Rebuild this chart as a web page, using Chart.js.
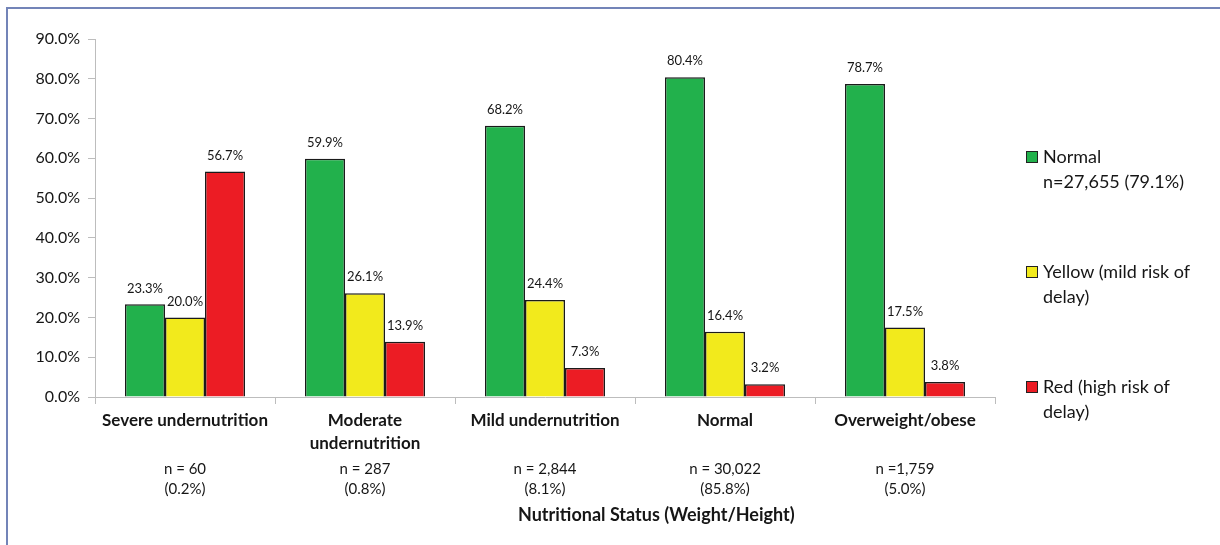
<!DOCTYPE html>
<html>
<head>
<meta charset="utf-8">
<script src="https://cdn.jsdelivr.net/npm/chart.js@4/dist/chart.umd.min.js"></script>
<style>
  html, body { margin: 0; padding: 0; background: #fff; }
  #wrap { position: relative; width: 1220px; height: 545px; overflow: hidden; font-family: Lato, "Open Sans", sans-serif; }
  #frame { position: absolute; left: 6px; top: 7px; width: 1300px; height: 600px; border-top: 2px solid #7384b8; border-left: 2px solid #7384b8; }
  #chart { position: absolute; left: 0; top: 0; }
  .lg { position: absolute; left: 1026px; font-size: 18px; line-height: 25px; color: #161616; }
  .lg .sw { position: absolute; left: 0; top: 7px; width: 10px; height: 10px; border: 1px solid #222; }
  .lg .tx { margin-left: 17px; white-space: nowrap; }
  #xtitle { position: absolute; left: 518px; top: 502px; font-size: 18px; font-weight: bold; line-height: 24px; color: #161616; white-space: nowrap; }
</style>
</head>
<body>
<div id="wrap">
  <div id="frame"></div>
  <canvas id="chart" width="1220" height="545"></canvas>
  <div id="legend"></div>
  <div id="xtitle"></div>
</div>
<script>
// Nutritional status groups and their sample sizes
const categories = [
  "Severe undernutrition",
  ["Moderate", "undernutrition"],
  "Mild undernutrition",
  "Normal",
  "Overweight/obese"
];
const groupSizes = [
  ["n = 60", "(0.2%)"],
  ["n = 287", "(0.8%)"],
  ["n = 2,844", "(8.1%)"],
  ["n = 30,022", "(85.8%)"],
  ["n =1,759", "(5.0%)"]
];
const axisTitle = "Nutritional Status (Weight/Height)";

// Developmental screening result (%) per group
const normalPct = [23.3, 59.9, 68.2, 80.4, 78.7];
const yellowPct = [20.0, 26.1, 24.4, 16.4, 17.5];
const redPct    = [56.7, 13.9, 7.3, 3.2, 3.8];

const seriesNames = [
  ["Normal", "n=27,655 (79.1%)"],
  ["Yellow (mild risk of", "delay)"],
  ["Red (high risk of", "delay)"]
];
const yTicks = [0, 10, 20, 30, 40, 50, 60, 70, 80, 90];

const colors = ["#22b14c", "#f2ea1c", "#ec1c24"];
const legendTops = [144, 259, 374];

const FONT = "Lato, 'Open Sans', sans-serif";
const TXT = "#161616";

// value labels above each bar
const valueLabels = {
  id: "valueLabels",
  afterDatasetsDraw(chart) {
    const ctx = chart.ctx;
    ctx.save();
    ctx.font = "13px " + FONT;
    ctx.fillStyle = TXT;
    ctx.textAlign = "center";
    ctx.textBaseline = "middle";
    chart.data.datasets.forEach((ds, i) => {
      chart.getDatasetMeta(i).data.forEach((bar, j) => {
        ctx.fillText(ds.data[j].toFixed(1) + "%", bar.x, bar.y - 16);
      });
    });
    ctx.restore();
  }
};

const fixedSize = (prop, v) => (scale) => { scale[prop] = v; };

new Chart(document.getElementById("chart"), {
  type: "bar",
  data: {
    labels: categories,
    datasets: [normalPct, yellowPct, redPct].map((d, i) => ({
      label: seriesNames[i].join(" "),
      data: d,
      backgroundColor: colors[i],
      borderColor: "#1a1a1a",
      borderWidth: 1.5,
      categoryPercentage: 0.667,
      barPercentage: 1.0,
      xAxisID: "x"
    }))
  },
  options: {
    responsive: false,
    animation: false,
    events: [],
    layout: { padding: { left: 0, right: 225, top: 39, bottom: 0 } },
    plugins: { legend: { display: false }, tooltip: { enabled: false } },
    scales: {
      y: {
        min: 0, max: 90,
        afterFit: fixedSize("width", 95),
        afterBuildTicks: (s) => { s.ticks = yTicks.map(v => ({ value: v })); },
        ticks: {
          callback: (v) => v.toFixed(1) + "%",
          font: { family: FONT, size: 16 },
          color: TXT,
          padding: 8
        },
        grid: { drawOnChartArea: false, tickLength: 7, color: "#bdbdbd" },
        border: { color: "#bdbdbd", width: 1 }
      },
      x: {
        position: "bottom",
        afterFit: fixedSize("height", 58),
        ticks: {
          font: { family: FONT, size: 17, weight: "bold", lineHeight: 1.35 },
          color: TXT,
          padding: 5,
          maxRotation: 0,
          autoSkip: false
        },
        grid: { offset: true, drawOnChartArea: false, tickLength: 7, color: "#bdbdbd" },
        border: { color: "#bdbdbd", width: 1 }
      },
      n: {
        type: "category",
        position: "bottom",
        labels: groupSizes,
        offset: true,
        afterFit: fixedSize("height", 90),
        ticks: {
          font: { family: FONT, size: 15, lineHeight: 1.35 },
          color: TXT,
          padding: 4,
          maxRotation: 0,
          autoSkip: false
        },
        grid: { display: false, drawTicks: false },
        border: { display: false }
      }
    }
  },
  plugins: [valueLabels]
});

document.getElementById("xtitle").textContent = axisTitle;

// legend with wrapped series names
const legend = document.getElementById("legend");
seriesNames.forEach((lines, i) => {
  const item = document.createElement("div");
  item.className = "lg";
  item.style.top = legendTops[i] + "px";
  const sw = document.createElement("div");
  sw.className = "sw";
  sw.style.background = colors[i];
  const tx = document.createElement("div");
  tx.className = "tx";
  tx.innerHTML = lines.join("<br>");
  item.appendChild(sw);
  item.appendChild(tx);
  legend.appendChild(item);
});
</script>
</body>
</html>
